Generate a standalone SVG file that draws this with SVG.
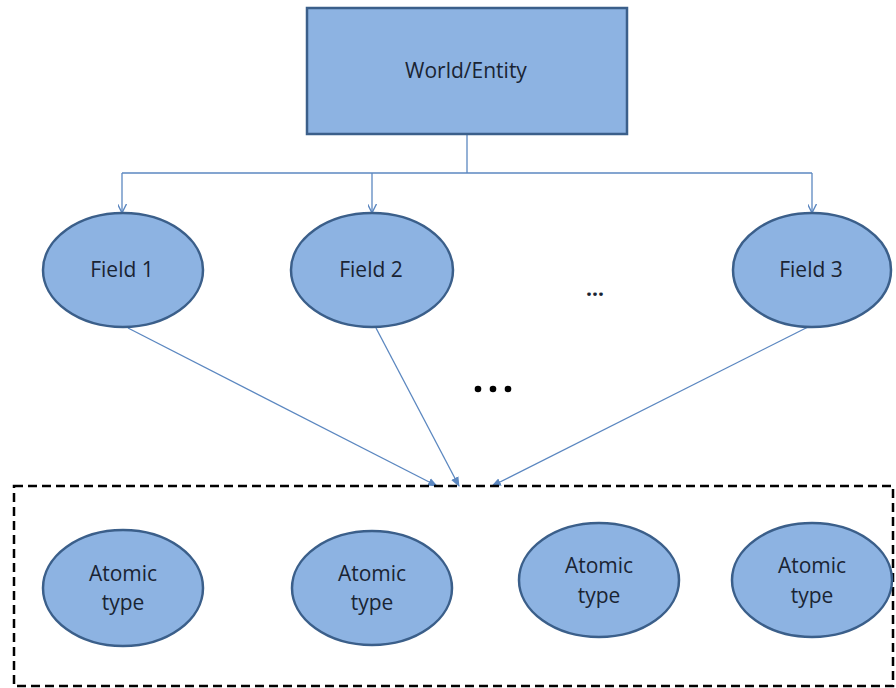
<svg xmlns="http://www.w3.org/2000/svg" width="896" height="688" viewBox="0 0 896 688">
<style>
.node{fill:#8db3e2;stroke:#3b5f8a;stroke-width:2.5}
.lbl{font-family:"Open Sans","Liberation Sans",sans-serif;font-size:21px;fill:#1a2433;text-anchor:middle}
.conn{stroke:#5b87c0;stroke-width:1.3;fill:none}
</style>
<defs>
<marker id="ah" viewBox="0 0 10 10" refX="9" refY="5" markerWidth="9" markerHeight="9" markerUnits="userSpaceOnUse" orient="auto">
<path d="M0,0 L10,5 L0,10" fill="none" stroke="#5b87c0" stroke-width="1.5"/>
</marker>
<marker id="ahf" viewBox="0 0 10 10" refX="9" refY="5" markerWidth="10" markerHeight="10" markerUnits="userSpaceOnUse" orient="auto">
<path d="M0,1 L10,5 L0,9 Z" fill="#5b87c0"/>
</marker>
</defs>
<rect x="0" y="0" width="896" height="688" fill="#fff"/>
<g id="connectors">
<path class="conn" d="M467,134 V173"/>
<path class="conn" d="M122,173 H812"/>
<path class="conn" d="M122,173 V212" marker-end="url(#ah)"/>
<path class="conn" d="M372,173 V212" marker-end="url(#ah)"/>
<path class="conn" d="M812,173 V212" marker-end="url(#ah)"/>
<path class="conn" d="M128,328 L437,486" marker-end="url(#ahf)"/>
<path class="conn" d="M376,328 L459,486" marker-end="url(#ahf)"/>
<path class="conn" d="M808,327 L492,486" marker-end="url(#ahf)"/>
</g>
<g id="world">
<rect class="node" x="307" y="8" width="320" height="126"/>
<text class="lbl" x="466" y="78">World/Entity</text>
</g>
<g id="field1">
<ellipse class="node" cx="123" cy="270" rx="80" ry="57"/>
<text class="lbl" x="122" y="277">Field 1</text>
</g>
<g id="field2">
<ellipse class="node" cx="372" cy="270" rx="81" ry="57"/>
<text class="lbl" x="371" y="277">Field 2</text>
</g>
<g id="field3">
<ellipse class="node" cx="812" cy="270" rx="79" ry="57"/>
<text class="lbl" x="811" y="277">Field 3</text>
</g>
<text class="lbl" x="595" y="296" font-weight="bold">...</text>
<g id="bigdots" fill="#000">
<circle cx="478" cy="389" r="3.3"/>
<circle cx="493" cy="389" r="3.3"/>
<circle cx="508" cy="389" r="3.3"/>
</g>
<g id="group">
<rect x="14" y="486" width="879" height="200" fill="none" stroke="#000" stroke-width="2.5" stroke-dasharray="9,5"/>
</g>
<g id="atomic1">
<ellipse class="node" cx="123" cy="588" rx="80" ry="58"/>
<text class="lbl" x="123" y="581">Atomic</text>
<text class="lbl" x="123" y="610">type</text>
</g>
<g id="atomic2">
<ellipse class="node" cx="372" cy="588" rx="80" ry="57"/>
<text class="lbl" x="372" y="581">Atomic</text>
<text class="lbl" x="372" y="610">type</text>
</g>
<g id="atomic3">
<ellipse class="node" cx="599" cy="580" rx="80" ry="57"/>
<text class="lbl" x="599" y="573">Atomic</text>
<text class="lbl" x="599" y="603">type</text>
</g>
<g id="atomic4">
<ellipse class="node" cx="812" cy="580" rx="80" ry="57"/>
<text class="lbl" x="812" y="573">Atomic</text>
<text class="lbl" x="812" y="603">type</text>
</g>
</svg>
